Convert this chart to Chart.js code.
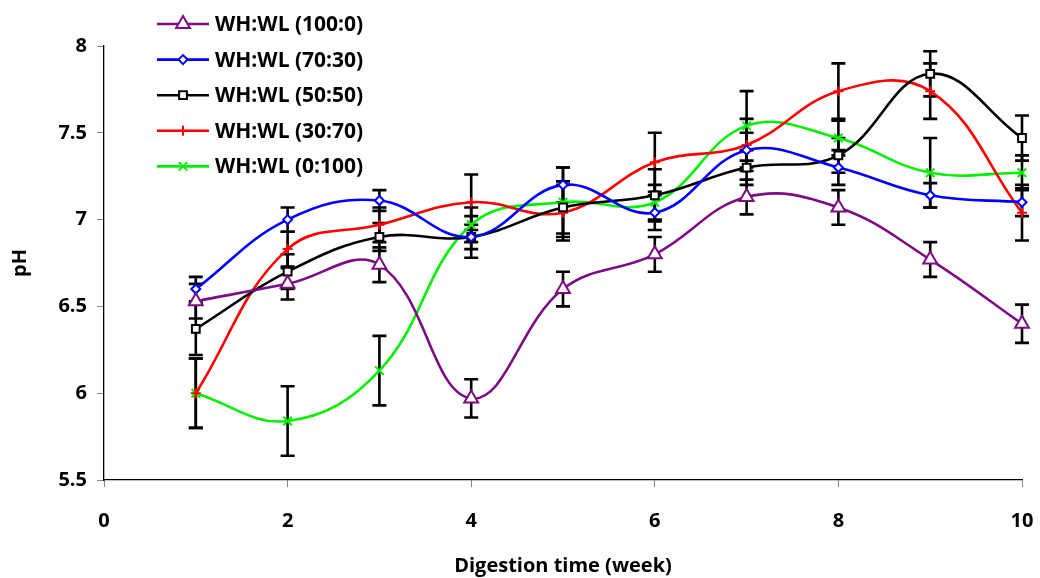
<!DOCTYPE html>
<html>
<head>
<meta charset="utf-8">
<script src="https://cdn.jsdelivr.net/npm/chart.js@4.4.1/dist/chart.umd.min.js"></script>
<style>
  html, body { margin: 0; padding: 0; background: #fff; }
  #wrap { width: 1040px; height: 578px; position: relative; }
</style>
</head>
<body>
<div id="wrap"><canvas id="chart"></canvas></div>
<script>
// ── 資料 ──
const weeks = [1, 2, 3, 4, 5, 6, 7, 8, 9, 10];
const xTicks = [0, 2, 4, 6, 8, 10];

const ph100_0 = [6.53, 6.63, 6.74, 5.97, 6.60, 6.80, 7.13, 7.07, 6.77, 6.40];
const ph70_30 = [6.60, 7.00, 7.11, 6.90, 7.20, 7.04, 7.40, 7.30, 7.14, 7.10];
const ph50_50 = [6.37, 6.70, 6.90, 6.90, 7.07, 7.14, 7.30, 7.37, 7.84, 7.47];
const ph30_70 = [6.00, 6.83, 6.97, 7.10, 7.04, 7.33, 7.43, 7.74, 7.74, 7.04];
const ph0_100 = [6.00, 5.84, 6.13, 6.97, 7.10, 7.10, 7.54, 7.47, 7.27, 7.27];

const err100_0 = [0.10, 0.09, 0.10, 0.11, 0.10, 0.10, 0.10, 0.10, 0.10, 0.11];
const err70_30 = [0.07, 0.07, 0.06, 0.07, 0.10, 0.10, 0.10, 0.10, 0.07, 0.08];
const err50_50 = [0.15, 0.10, 0.08, 0.12, 0.15, 0.15, 0.10, 0.10, 0.13, 0.13];
const err30_70 = [0.20, 0.10, 0.10, 0.16, 0.16, 0.17, 0.15, 0.16, 0.16, 0.16];
const err0_100 = [0.20, 0.20, 0.20, 0.10, 0.20, 0.10, 0.20, 0.10, 0.20, 0.10];

const labels = ['WH:WL (100:0)', 'WH:WL (70:30)', 'WH:WL (50:50)', 'WH:WL (30:70)', 'WH:WL (0:100)'];

const FONT = "'Open Sans', 'Noto Sans', sans-serif";

function toPoints(vals) {
    return weeks.map((w, i) => ({ x: w, y: vals[i] }));
}

function makeSet(label, vals, errs, color, style, radius) {
    return {
        label: label,
        data: toPoints(vals),
        errors: errs,
        borderColor: color,
        borderWidth: 2.6,
        tension: 0.4,
        pointStyle: style,
        pointRadius: radius,
        pointBorderColor: color,
        pointBackgroundColor: '#fff',
        pointBorderWidth: 2,
        clip: false,
        fill: false
    };
}

// ── 誤差線 ──
const errorBars = {
    id: 'errorBars',
    beforeDatasetsDraw(chart) {
        const ctx = chart.ctx;
        const xs = chart.scales.x, ys = chart.scales.y;
        ctx.save();
        ctx.strokeStyle = '#000';
        ctx.lineWidth = 2.6;
        chart.data.datasets.forEach(ds => {
            ds.data.forEach((p, i) => {
                const e = ds.errors[i];
                const px = xs.getPixelForValue(p.x);
                const top = ys.getPixelForValue(p.y + e);
                const bot = ys.getPixelForValue(p.y - e);
                ctx.beginPath();
                ctx.moveTo(px, top); ctx.lineTo(px, bot);
                ctx.moveTo(px - 7, top); ctx.lineTo(px + 7, top);
                ctx.moveTo(px - 7, bot); ctx.lineTo(px + 7, bot);
                ctx.stroke();
            });
        });
        ctx.restore();
    }
};

// ── 自訂圖例 ──
const legendBox = {
    id: 'legendBox',
    afterDraw(chart) {
        const ctx = chart.ctx;
        ctx.save();
        chart.data.datasets.forEach((ds, i) => {
            const y = 24 + i * 35.6;
            ctx.strokeStyle = ds.borderColor;
            ctx.lineWidth = 2.6;
            ctx.beginPath();
            ctx.moveTo(157, y); ctx.lineTo(209, y);
            ctx.stroke();
            ctx.fillStyle = ds.pointBackgroundColor;
            ctx.strokeStyle = ds.pointBorderColor;
            ctx.lineWidth = 2;
            Chart.helpers.drawPoint(ctx, { pointStyle: ds.pointStyle, radius: ds.pointRadius, borderWidth: 2 }, 183, y);
            ctx.fillStyle = '#000';
            ctx.font = `bold 21px ${FONT}`;
            ctx.textBaseline = 'middle';
            ctx.fillText(ds.label, 215, y + 1);
        });
        ctx.restore();
    }
};

new Chart(document.getElementById('chart').getContext('2d'), {
    type: 'line',
    data: {
        datasets: [
            makeSet(labels[0], ph100_0, err100_0, '#7B0C82', 'triangle', 8),
            makeSet(labels[1], ph70_30, err70_30, '#0000FF', 'rectRot', 4.5),
            makeSet(labels[2], ph50_50, err50_50, '#000000', 'rect', 5.5),
            makeSet(labels[3], ph30_70, err30_70, '#FF0000', 'cross', 5),
            makeSet(labels[4], ph0_100, err0_100, '#00F000', 'crossRot', 6)
        ]
    },
    options: {
        responsive: true,
        maintainAspectRatio: false,
        animation: false,
        layout: { padding: { top: 46, right: 18, left: 8, bottom: 0 } },
        plugins: {
            legend: { display: false },
            tooltip: { enabled: false }
        },
        scales: {
            x: {
                type: 'linear',
                min: 0, max: 10,
                afterBuildTicks: s => { s.ticks = xTicks.map(v => ({ value: v })); },
                afterFit: s => { s.height = 98; s.paddingLeft = 0; s.paddingRight = 0; },
                grid: { drawOnChartArea: false, drawTicks: true, tickLength: 7, color: '#888', lineWidth: 1 },
                border: { color: '#000', width: 1.3 },
                ticks: { color: '#000', font: { family: FONT, size: 20, weight: 'bold' }, padding: 22, maxRotation: 0 },
                title: { display: true, text: 'Digestion time (week)', color: '#000',
                         font: { family: FONT, size: 20, weight: 'bold' }, padding: { top: 4, bottom: 0 } }
            },
            y: {
                min: 5.5, max: 8,
                ticks: { stepSize: 0.5, color: '#000', font: { family: FONT, size: 20, weight: 'bold' }, padding: 10,
                         callback: v => String(v) },
                afterFit: s => { s.width = 96; s.paddingTop = 0; s.paddingBottom = 0; },
                grid: { drawOnChartArea: false, drawTicks: true, tickLength: 7, color: '#888', lineWidth: 1 },
                border: { color: '#000', width: 1.3 },
                title: { display: true, text: 'pH', color: '#000',
                         font: { family: FONT, size: 20, weight: 'bold' }, padding: { top: 0, bottom: 8 } }
            }
        }
    },
    plugins: [errorBars, legendBox]
});
</script>
</body>
</html>
